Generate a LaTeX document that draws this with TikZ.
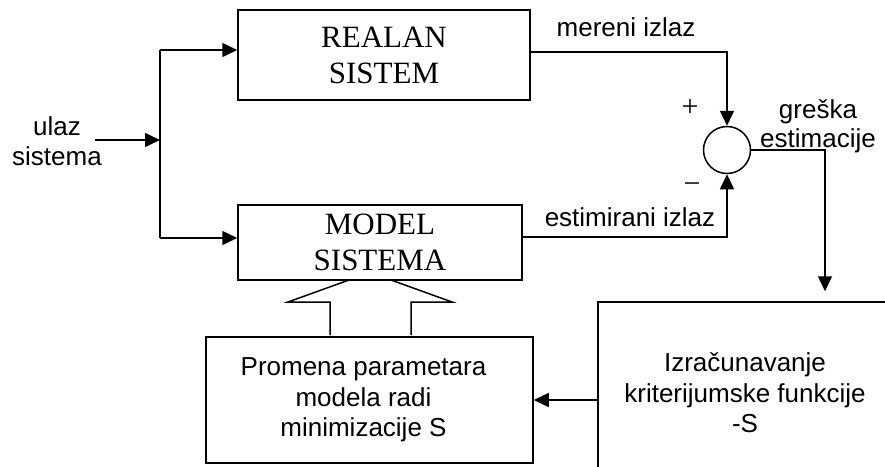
\documentclass[tikz,border=0pt]{standalone}
\usepackage{fontspec}
\setmainfont{Liberation Serif}
\setsansfont{Liberation Sans}
\usetikzlibrary{arrows.meta}
\begin{document}
\begin{tikzpicture}[x=1pt,y=-1pt, line width=1.5pt,
  arr/.style={-{Triangle[length=15pt,width=14pt]}},
  serifbox/.style={draw, rectangle, inner sep=0pt, align=center, font=\fontsize{31}{36}\selectfont},
  sansbox/.style={draw, rectangle, inner sep=0pt, align=center, font=\sffamily\fontsize{26}{30.5}\selectfont},
  lbl/.style={inner sep=0pt, align=center, font=\sffamily\fontsize{26}{29.5}\selectfont},
  sign/.style={inner sep=0pt, font=\fontsize{30}{30}\selectfont}]
\useasboundingbox (0,0) rectangle (885,466);

% boxes
\node[serifbox, minimum width=292pt, minimum height=90pt] (real) at (384,55) {REALAN\\SISTEM};
\node[serifbox, minimum width=284pt, minimum height=75pt] (model) at (380,242.5) {MODEL\\SISTEMA};
\node[draw, circle, minimum size=47pt, inner sep=0pt] (sum) at (727,150) {};
\node[sansbox, minimum width=294pt, minimum height=182pt] (izr) at (745,393) {Izračunavanje\\kriterijumske funkcije\\-S};
\node[sansbox, minimum width=327pt, minimum height=126pt] (prom) at (369.5,400) {\hspace*{-12pt}Promena parametara\\\hspace*{-12pt}modela radi\\\hspace*{-12pt}minimizacije S};

% labels
\node[lbl] (ulaz) at (57,141) {ulaz\\sistema};
\node[lbl] (greska) at (818,126) {greška\\estimacije};
\node[lbl, anchor=base] (mereni) at (626,36.5) {mereni izlaz};
\node[lbl, anchor=base] (estim) at (630,226.5) {estimirani izlaz};
\node[sign] (plus) at (690,108) {+};
\node[sign] (minus) at (692,188) {−};

% input split
\coordinate (in) at (95,140);
\coordinate (split) at (160,140);
\coordinate (top) at (160,50);
\coordinate (bot) at (160,238);
\draw[arr] (in) -- (split);
\draw (top) -- (bot);
\draw[arr] (top) -- (top -| real.west);
\draw[arr] (bot) -- (bot -| model.west);

% outputs to summing junction
\draw[arr] ([yshift=3pt]real.east) -| (sum.north);
\draw[arr] ([yshift=5.5pt]model.east) -| (sum.south);

% error to criterion
\coordinate (ecol) at (825,150);
\draw[arr, shorten >=10pt] (sum.east) -| (izr.north -| ecol);

% criterion to parameter change
\draw[arr] (prom.east -| izr.west) -- (prom.east);

% hollow block arrow
\draw[line join=miter] (349,280) -- (288,302) -- (330,302) -- (330,335)
  (411,335) -- (411,302) -- (452,302) -- (391,280);
\end{tikzpicture}
\end{document}
